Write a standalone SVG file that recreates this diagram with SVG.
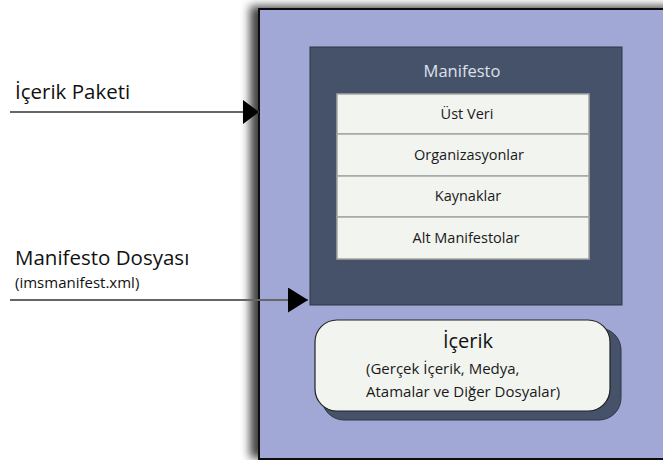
<svg xmlns="http://www.w3.org/2000/svg" width="663" height="460" viewBox="0 0 663 460">
<defs>
<filter id="sh" x="-20%" y="-20%" width="140%" height="140%">
<feGaussianBlur in="SourceAlpha" stdDeviation="5"/>
<feOffset dx="-8" dy="-2"/>
<feComponentTransfer><feFuncA type="linear" slope="0.75"/></feComponentTransfer>
<feMerge><feMergeNode/><feMergeNode in="SourceGraphic"/></feMerge>
</filter>
<marker id="ah1" markerWidth="16" markerHeight="24" refX="16" refY="12" orient="auto" markerUnits="userSpaceOnUse">
<path d="M0,0 L16,12 L0,24 Z" fill="#000"/>
</marker>
<marker id="ah2" markerWidth="20" markerHeight="25" refX="20" refY="12.5" orient="auto" markerUnits="userSpaceOnUse">
<path d="M0,0 L20,12.5 L0,25 Z" fill="#000"/>
</marker>
</defs>
<style>
text{font-family:"Open Sans","Liberation Sans",sans-serif;}
.row{fill:#F2F4F0;stroke:#A4A6A4;stroke-width:1.5;}
.rt{font-size:14.5px;fill:#1a1a1a;text-anchor:middle;}
.lbl{font-size:20.5px;fill:#111;}
.conn{stroke:#666;stroke-width:1.8;fill:none;}
</style>
<rect width="663" height="460" fill="#fff"/>
<g id="package">
<rect x="259" y="9" width="420" height="450" fill="#A2A8D6" stroke="#111" stroke-width="2" filter="url(#sh)"/>
</g>
<g id="manifesto">
<rect x="310" y="47" width="312" height="258" fill="#465269" stroke="#2E3646" stroke-width="1"/>
<text x="462" y="77" font-size="16.5" fill="#DDE1EA" text-anchor="middle">Manifesto</text>
</g>
<g id="ust-veri"><rect class="row" x="337" y="94" width="252" height="40"/><text class="rt" x="467" y="119">Üst Veri</text></g>
<g id="organizasyonlar"><rect class="row" x="337" y="134" width="252" height="42"/><text class="rt" x="469" y="160">Organizasyonlar</text></g>
<g id="kaynaklar"><rect class="row" x="337" y="176" width="252" height="41"/><text class="rt" x="468" y="201">Kaynaklar</text></g>
<g id="alt-manifestolar"><rect class="row" x="337" y="217" width="252" height="42"/><text class="rt" x="466" y="243">Alt Manifestolar</text></g>
<g id="icerik">
<rect x="322" y="328" width="299" height="92" rx="22" fill="#465269" stroke="#2E3646" stroke-width="1"/>
<rect x="315" y="320" width="295" height="91" rx="22" fill="#F2F4F0" stroke="#222" stroke-width="1.2"/>
<text x="468" y="348" font-size="20" fill="#111" text-anchor="middle">İçerik</text>
<text x="366" y="374" font-size="15" fill="#1a1a1a">(Gerçek İçerik, Medya,</text>
<text x="366" y="397" font-size="15" fill="#1a1a1a">Atamalar ve Diğer Dosyalar)</text>
</g>
<g id="label-paket"><text class="lbl" x="15" y="99">İçerik Paketi</text></g>
<g id="label-dosya">
<text class="lbl" x="15" y="265">Manifesto Dosyası</text>
<text x="15" y="288" font-size="15" fill="#111">(imsmanifest.xml)</text>
</g>
<g id="connectors">
<line class="conn" x1="10" y1="112" x2="259" y2="112" marker-end="url(#ah1)"/>
<line class="conn" x1="10" y1="300" x2="308" y2="300" marker-end="url(#ah2)"/>
</g>
</svg>
